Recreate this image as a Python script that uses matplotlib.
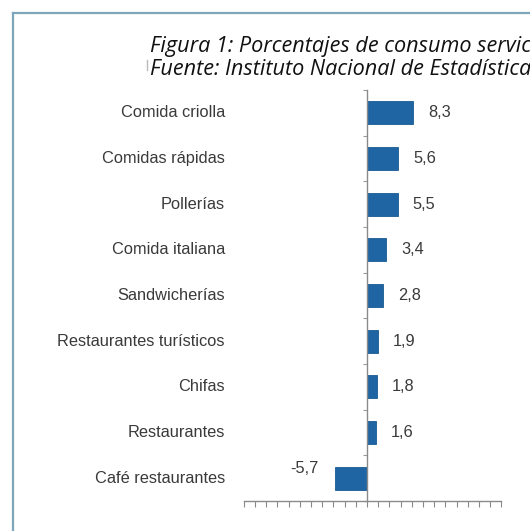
import matplotlib
matplotlib.use("Agg")
import matplotlib.pyplot as plt
import matplotlib.transforms as mtransforms
from matplotlib.lines import Line2D

categories = ["Comida criolla", "Comidas rápidas", "Pollerías", "Comida italiana",
              "Sandwicherías", "Restaurantes turísticos", "Chifas", "Restaurantes",
              "Café restaurantes"]
values = [8.3, 5.6, 5.5, 3.4, 2.8, 1.9, 1.8, 1.6, -5.7]
value_labels = ["8,3", "5,6", "5,5", "3,4", "2,8", "1,9", "1,8", "1,6", "-5,7"]
title_lines = ["Figura 1: Porcentajes de consumo servicios de restaurantes",
               "Fuente: Instituto Nacional de Estadística e Informática"]

W, H = 530, 531
fig = plt.figure(figsize=(W / 100, H / 100), dpi=100)
fig.patch.set_facecolor("white")

def fx(px):
    return px / W

def fy(py):
    return 1 - py / H

# frame of the figure box
border = "#7fa5bb"
fig.add_artist(Line2D([fx(13), fx(13)], [fy(13), fy(531)], color=border, lw=1.6,
                      transform=fig.transFigure))
fig.add_artist(Line2D([fx(13), fx(530)], [fy(13), fy(13)], color=border, lw=1.6,
                      transform=fig.transFigure))
fig.add_artist(Line2D([fx(147), fx(147)], [fy(60), fy(70)], color="#bbbbbb", lw=1.0,
                      transform=fig.transFigure))

# title
fig.text(fx(150), fy(52), title_lines[0], fontsize=15.6, style="italic",
         family="Open Sans", color="#111111", ha="left", va="baseline")
fig.text(fx(150), fy(75), title_lines[1], fontsize=15.6, style="italic",
         family="Open Sans", color="#111111", ha="left", va="baseline")

ax = fig.add_axes([fx(243.8), fy(501), (501.4 - 243.8) / W, (501 - 90) / H])
ax.set_facecolor("none")
y = list(range(len(categories)))
ax.barh(y, values, height=0.5, color="#1f65a3", edgecolor="#1a5a92", linewidth=0.6)
ax.set_xlim(-22, 24)
ax.set_ylim(len(categories) - 0.5, -0.5)

for s in ["top", "right"]:
    ax.spines[s].set_visible(False)
ax.spines["left"].set_position(("data", 0))
ax.spines["left"].set_color("#8a8a8a")
ax.spines["bottom"].set_color("#8a8a8a")
ax.spines["left"].set_linewidth(1.0)
ax.spines["bottom"].set_linewidth(1.0)

ax.set_xticks(list(range(-22, 25, 2)))
ax.set_xticklabels([])
ax.tick_params(axis="x", direction="out", length=4, width=0.8, color="#8a8a8a")
ax.set_yticks([i - 0.5 for i in range(len(categories) + 1)])
ax.set_yticklabels([])
ax.tick_params(axis="y", direction="out", length=3, width=0.8, color="#9a9a9a")

trans = mtransforms.blended_transform_factory(ax.transAxes, ax.transData)
for i, c in enumerate(categories):
    ax.text(-0.073, i, c, transform=trans, ha="right", va="center",
            fontsize=11.8, family="Liberation Sans", color="#3a3a3a")

for i, (v, lab) in enumerate(zip(values, value_labels)):
    if v >= 0:
        ax.annotate(lab, (v, i), xytext=(10.8, 0), textcoords="offset points",
                    ha="left", va="center", fontsize=11.8, family="Liberation Sans",
                    color="#3a3a3a")
    else:
        ax.annotate(lab, (v, i), xytext=(-12, 7), textcoords="offset points",
                    ha="right", va="center", fontsize=11.8, family="Liberation Sans",
                    color="#3a3a3a")

fig.savefig("out.png", dpi=100)
